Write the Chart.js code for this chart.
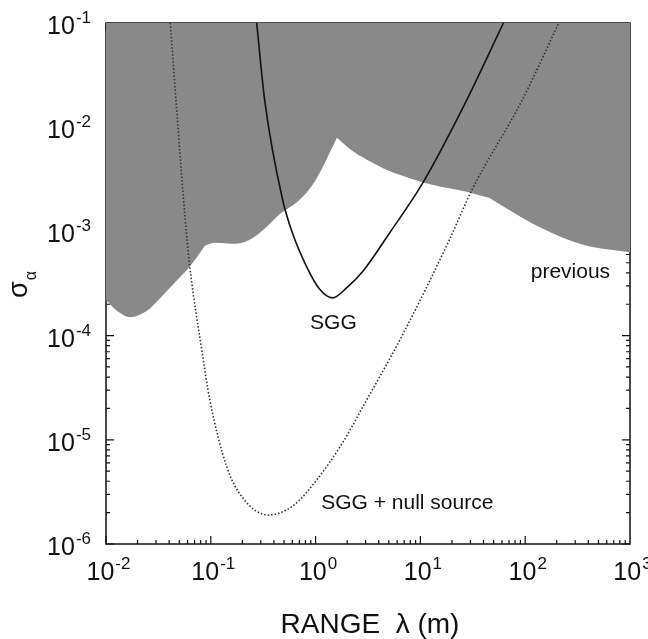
<!DOCTYPE html>
<html>
<head>
<meta charset="utf-8">
<script src="https://cdn.jsdelivr.net/npm/chart.js@4.4.0/dist/chart.umd.min.js"></script>
<style>
  body { margin: 0; background: #fff; }
  canvas { display: block; }
</style>
</head>
<body>
<canvas id="chart" width="648" height="639"></canvas>
<script>
// previous limits (lower edge of the grey region)
var prevLambda = [0.01, 0.013, 0.017, 0.024, 0.033, 0.045, 0.063, 0.088, 0.11, 0.17, 0.235, 0.33, 0.45, 0.7, 1.0, 1.6, 1.9, 2.2, 3.06, 4.5, 6.3, 13, 27.5, 45.15, 71, 136, 364, 1000];
var prevSigma = [2.2e-4, 1.7e-4, 1.5e-4, 1.7e-4, 2.3e-4, 3.2e-4, 4.6e-4, 7.3e-4, 7.8e-4, 7.6e-4, 8.3e-4, 1.07e-3, 1.45e-3, 2.0e-3, 3.1e-3, 7.9e-3, 6.8e-3, 6.0e-3, 4.9e-3, 4.0e-3, 3.5e-3, 2.8e-3, 2.4e-3, 2.1e-3, 1.6e-3, 1.1e-3, 7.4e-4, 6.3e-4];
// indices of the sharp corners of that edge
var prevCorners = [0, 7, 15, 23, 27];

// SGG alone
var sggLambda = [0.274, 0.327, 0.485, 0.60, 0.82, 1.09, 1.45, 2.0, 2.8, 5.1, 10.5, 27.5, 62];
var sggSigma = [0.1, 1.8e-2, 2.0e-3, 9.7e-4, 4.6e-4, 2.8e-4, 2.3e-4, 2.9e-4, 4.1e-4, 9.7e-4, 2.9e-3, 1.8e-2, 0.1];

// SGG + null source
var nullLambda = [0.041, 0.057, 0.063, 0.082, 0.098, 0.142, 0.20, 0.35, 0.60, 1.02, 1.8, 3.06, 6.7, 18.9, 31, 93, 209];
var nullSigma = [0.1, 1.3e-3, 4.6e-4, 7.3e-5, 2.4e-5, 5.5e-6, 2.8e-6, 1.9e-6, 2.3e-6, 4.1e-6, 9.3e-6, 2.4e-5, 1.0e-4, 8.3e-4, 2.5e-3, 1.8e-2, 0.1];

var xExps = [-2, -1, 0, 1, 2, 3];
var yExps = [-1, -2, -3, -4, -5, -6];

var curveLabels = [
  { text: "previous", x: 270, y: 3.6e-4 },
  { text: "SGG", x: 1.48, y: 1.16e-4 },
  { text: "SGG + null source", x: 7.5, y: 2.15e-6 }
];

function pts(xs, ys) {
  var out = [];
  for (var i = 0; i < xs.length; i++) out.push({ x: xs[i], y: ys[i] });
  return out;
}

var FONT = "'Liberation Sans', Arial, sans-serif";

function drawPow(ctx, exp, x, y, align) {
  ctx.font = "25px " + FONT;
  var w10 = ctx.measureText("10").width;
  ctx.font = "17px " + FONT;
  var e = String(exp);
  var we = ctx.measureText(e).width;
  var start = align === "center" ? x - (w10 + we) / 2 : x - w10 - we;
  ctx.textAlign = "left";
  ctx.textBaseline = "alphabetic";
  ctx.font = "25px " + FONT;
  ctx.fillText("10", start, y);
  ctx.font = "17px " + FONT;
  ctx.fillText(e, start + w10 + 1, y - 11);
}

var framePlugin = {
  id: "frame",
  beforeDatasetsDraw: function(chart) {
    var ctx = chart.ctx, a = chart.chartArea;
    var xs = chart.scales.x, ys = chart.scales.y;
    ctx.save();
    ctx.strokeStyle = "#111";
    ctx.lineWidth = 1.5;
    ctx.strokeRect(a.left, a.top, a.right - a.left, a.bottom - a.top);
    ctx.lineWidth = 1.2;
    ctx.beginPath();
    for (var d = -2; d < 3; d++) {
      for (var m = 1; m < 10; m++) {
        var px = xs.getPixelForValue(m * Math.pow(10, d));
        var len = m === 1 ? 8 : 4;
        ctx.moveTo(px, a.bottom); ctx.lineTo(px, a.bottom - len);
        ctx.moveTo(px, a.top); ctx.lineTo(px, a.top + len);
      }
    }
    for (var d2 = -6; d2 < -1; d2++) {
      for (var m2 = 1; m2 < 10; m2++) {
        var py = ys.getPixelForValue(m2 * Math.pow(10, d2));
        var len2 = m2 === 1 ? 8 : 4;
        ctx.moveTo(a.left, py); ctx.lineTo(a.left + len2, py);
        ctx.moveTo(a.right, py); ctx.lineTo(a.right - len2, py);
      }
    }
    ctx.stroke();
    ctx.restore();
  },
  afterDraw: function(chart) {
    var ctx = chart.ctx, a = chart.chartArea;
    var xs = chart.scales.x, ys = chart.scales.y;
    ctx.save();
    ctx.fillStyle = "#111";
    xExps.forEach(function(e) {
      drawPow(ctx, e, xs.getPixelForValue(Math.pow(10, e)) + 2, a.bottom + 36, "center");
    });
    yExps.forEach(function(e) {
      drawPow(ctx, e, a.left - 16, ys.getPixelForValue(Math.pow(10, e)) + 11, "right");
    });
    // curve labels
    ctx.font = "21px " + FONT;
    ctx.textAlign = "center";
    ctx.textBaseline = "alphabetic";
    curveLabels.forEach(function(l) {
      ctx.fillText(l.text, xs.getPixelForValue(l.x), ys.getPixelForValue(l.y));
    });
    // x title
    ctx.font = "28px " + FONT;
    ctx.fillText("RANGE  \u03bb (m)", (a.left + a.right) / 2 + 2, 633);
    // y title, rotated
    ctx.translate(27, 298);
    ctx.rotate(-Math.PI / 2);
    ctx.textAlign = "left";
    ctx.font = "27px " + FONT;
    ctx.fillText("\u03c3", 0, 0);
    var ws = ctx.measureText("\u03c3").width;
    ctx.font = "16px " + FONT;
    ctx.fillText("\u03b1", ws + 1, 9);
    ctx.restore();
  }
};

function prevPart(from, to) {
  return {
    label: "previous",
    data: pts(prevLambda.slice(from, to + 1), prevSigma.slice(from, to + 1)),
    showLine: true,
    borderWidth: 0,
    borderColor: "rgba(0,0,0,0)",
    backgroundColor: "#898989",
    pointRadius: 0,
    cubicInterpolationMode: "monotone",
    fill: "end"
  };
}

var datasets = [
  {
    label: "SGG",
    data: pts(sggLambda, sggSigma),
    showLine: true,
    borderColor: "#111",
    borderWidth: 1.6,
    pointRadius: 0,
    cubicInterpolationMode: "monotone",
    fill: false
  },
  {
    label: "SGG + null source",
    data: pts(nullLambda, nullSigma),
    showLine: true,
    borderColor: "#333",
    borderWidth: 1.6,
    borderDash: [1.5, 2],
    pointRadius: 0,
    cubicInterpolationMode: "monotone",
    fill: false
  }
];
for (var k = 0; k < prevCorners.length - 1; k++) {
  datasets.push(prevPart(prevCorners[k], prevCorners[k + 1]));
}

new Chart(document.getElementById("chart"), {
  type: "scatter",
  data: { datasets: datasets },
  options: {
    responsive: false,
    animation: false,
    layout: { padding: { left: 106, right: 18, top: 23, bottom: 95 } },
    plugins: { legend: { display: false }, tooltip: { enabled: false } },
    scales: {
      x: { type: "logarithmic", min: 0.01, max: 1000, display: false },
      y: { type: "logarithmic", min: 1e-6, max: 0.1, display: false }
    }
  },
  plugins: [framePlugin]
});
</script>
</body>
</html>
